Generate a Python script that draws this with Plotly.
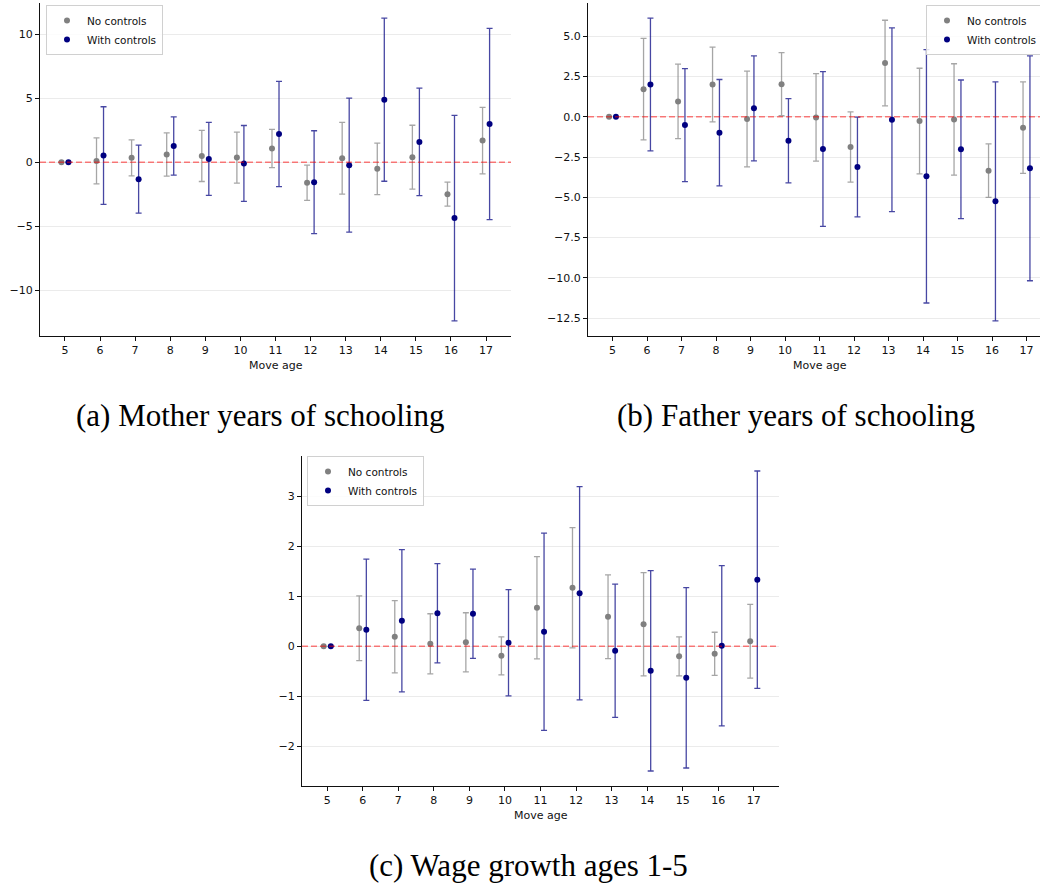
import plotly.graph_objects as go

# Move ages (x categories)
ages = [5, 6, 7, 8, 9, 10, 11, 12, 13, 14, 15, 16, 17]
x_ticks = ages

# (a) Mother years of schooling
mother_nc = [0.0, 0.1, 0.34, 0.6, 0.49, 0.36, 1.07, -1.61, 0.31, -0.52, 0.39, -2.5, 1.69]
mother_nc_err = [0.0, 1.8, 1.41, 1.69, 2.0, 1.99, 1.5, 1.38, 2.8, 2.02, 2.5, 0.94, 2.6]
mother_wc = [0.0, 0.52, -1.33, 1.27, 0.26, -0.1, 2.21, -1.56, -0.23, 4.89, 1.59, -4.37, 2.99]
mother_wc_err = [0.0, 3.82, 2.66, 2.28, 2.86, 2.97, 4.12, 4.02, 5.24, 6.38, 4.2, 8.04, 7.48]

# (b) Father years of schooling
father_nc = [0.0, 1.71, 0.95, 2.0, -0.14, 2.02, -0.04, -1.88, 3.33, -0.27, -0.17, -3.35, -0.68]
father_nc_err = [0.0, 3.15, 2.31, 2.32, 2.97, 1.96, 2.72, 2.18, 2.66, 3.28, 3.46, 1.66, 2.84]
father_wc = [0.0, 2.0, -0.52, -0.99, 0.52, -1.49, -2.0, -3.12, -0.19, -3.7, -2.02, -5.25, -3.2]
father_wc_err = [0.0, 4.12, 3.51, 3.3, 3.26, 2.62, 4.8, 3.09, 5.7, 7.86, 4.3, 7.42, 6.98]

# (c) Wage growth ages 1-5
wage_nc = [0.0, 0.36, 0.19, 0.05, 0.08, -0.19, 0.77, 1.17, 0.59, 0.44, -0.2, -0.15, 0.1]
wage_nc_err = [0.0, 0.645, 0.72, 0.6, 0.59, 0.38, 1.02, 1.2, 0.835, 1.03, 0.39, 0.43, 0.735]
wage_wc = [0.0, 0.33, 0.51, 0.66, 0.65, 0.07, 0.29, 1.06, -0.09, -0.49, -0.63, 0.01, 1.33]
wage_wc_err = [0.0, 1.41, 1.42, 0.99, 0.89, 1.06, 1.97, 2.13, 1.33, 2.0, 1.8, 1.6, 2.17]

captions = ["(a) Mother years of schooling", "(b) Father years of schooling",
            "(c) Wage growth ages 1-5"]
series_names = ["No controls", "With controls"]

W, H = 1040, 889
OFFSET = 0.1

# axes boxes in pixels: left, right, top, bottom (right edge of (b) runs past the page)
boxes = [(40, 511, 3, 336), (588, 1051, 3, 336), (302, 779, 456, 786)]
panels = [
    (mother_nc, mother_nc_err, mother_wc, mother_wc_err, 5, None),
    (father_nc, father_nc_err, father_wc, father_wc_err, 2.5, ".1f"),
    (wage_nc, wage_nc_err, wage_wc, wage_wc_err, 1, None),
]
legend_pos = [(46, 5), (926, 5), (307, 456)]
caption_pos = [(260, 415), (796, 415), (528, 865)]

GRAY = "#808080"
NAVY = "#000080"
TICK_FONT = dict(family="DejaVu Sans", size=11, color="#111111")

fig = go.Figure()
layout = {}
annotations = []
shapes = []

for i, (nc, nce, wc, wce, dtick, fmt) in enumerate(panels):
    n = "" if i == 0 else str(i + 1)
    xa, ya = "x" + n, "y" + n
    leg = "legend" + n
    x_nc = [a - OFFSET for a in ages]
    x_wc = [a + OFFSET for a in ages]

    fig.add_trace(go.Scatter(
        x=x_nc, y=nc, mode="markers", name=series_names[0],
        marker=dict(color=GRAY, size=6),
        error_y=dict(type="data", array=nce, color="rgba(128,128,128,0.7)",
                     thickness=1.3, width=3),
        xaxis=xa, yaxis=ya, legend=leg))
    fig.add_trace(go.Scatter(
        x=x_wc, y=wc, mode="markers", name=series_names[1],
        marker=dict(color=NAVY, size=6),
        error_y=dict(type="data", array=wce, color="rgba(0,0,128,0.72)",
                     thickness=1.3, width=3),
        xaxis=xa, yaxis=ya, legend=leg))

    # data limits with 5% padding on each side
    xs = x_nc + x_wc
    xlo, xhi = min(xs), max(xs)
    pad = 0.05 * (xhi - xlo)
    xlo, xhi = xlo - pad, xhi + pad
    lows = [v - e for v, e in zip(nc + wc, nce + wce)]
    highs = [v + e for v, e in zip(nc + wc, nce + wce)]
    ylo, yhi = min(lows), max(highs)
    pad = 0.05 * (yhi - ylo)
    ylo, yhi = ylo - pad, yhi + pad

    l, r_full, t, b = boxes[i]
    r = r_full
    if r > W:
        xhi = xlo + (xhi - xlo) * (W - l) / (r - l)
        r = W

    layout["xaxis" + n] = dict(
        domain=[l / W, r / W], anchor=ya, range=[xlo, xhi],
        tickmode="array", tickvals=x_ticks, ticktext=[str(v) for v in x_ticks],
        showgrid=False, zeroline=False, showline=True, linecolor="#111111",
        linewidth=1, ticks="outside", ticklen=4, tickwidth=1, tickcolor="#111111",
        tickfont=TICK_FONT)
    ydict = dict(
        domain=[1 - b / H, 1 - t / H], anchor=xa, range=[ylo, yhi],
        dtick=dtick, tick0=0, showgrid=True, gridcolor="#ebebeb", gridwidth=1,
        zeroline=False, showline=True, linecolor="#111111", linewidth=1,
        ticks="outside", ticklen=4, tickwidth=1, tickcolor="#111111",
        tickfont=TICK_FONT)
    if fmt:
        ydict["tickformat"] = fmt
    layout["yaxis" + n] = ydict

    # zero reference line
    shapes.append(dict(type="line", xref="paper", yref=ya,
                       x0=l / W, x1=r / W, y0=0, y1=0, layer="above",
                       line=dict(color="rgba(255,0,0,0.5)", width=1.6,
                                 dash="6px,3px")))

    lx, ly = legend_pos[i]
    layout[leg] = dict(
        x=lx / W, y=1 - ly / H, xanchor="left", yanchor="top",
        bgcolor="rgba(255,255,255,0.85)", bordercolor="#d0d0d0", borderwidth=1,
        font=dict(family="DejaVu Sans", size=10.5, color="#111111"),
        itemwidth=30, tracegroupgap=0)

    # axis label
    annotations.append(dict(
        text="Move age", xref="paper", yref="paper",
        x=(l + r_full) / 2 / W, y=1 - (b + 29) / H,
        xanchor="center", yanchor="middle", showarrow=False,
        font=dict(family="DejaVu Sans", size=11, color="#111111")))

    cx, cy = caption_pos[i]
    annotations.append(dict(
        text=captions[i], xref="paper", yref="paper", x=cx / W, y=1 - cy / H,
        xanchor="center", yanchor="middle", showarrow=False,
        font=dict(family="Liberation Serif", size=31, color="#000000")))

fig.update_layout(
    width=W, height=H, margin=dict(l=0, r=0, t=0, b=0, autoexpand=False),
    paper_bgcolor="white", plot_bgcolor="white", showlegend=True,
    annotations=annotations, shapes=shapes, **layout)

fig.write_html("out.html")
